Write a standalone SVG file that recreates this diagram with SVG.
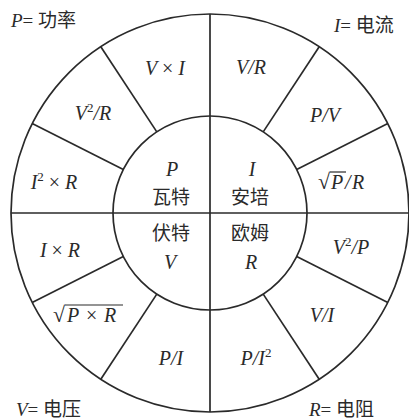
<svg xmlns="http://www.w3.org/2000/svg" width="409" height="420" viewBox="0 0 409 420">
<style>
.ln{stroke:#2a2a2a;stroke-width:1.7;fill:none}
.ov{stroke:#2a2a2a;stroke-width:1.2}
.f{font-family:"Liberation Serif","Times New Roman",serif;font-style:italic;font-size:20px;fill:#2a2a2a;text-anchor:middle}
.s{text-anchor:start}
.c{font-family:"Noto Sans CJK SC","Noto Sans CJK JP",sans-serif;font-size:19px;fill:#2a2a2a;text-anchor:middle}
.lab{font-family:"Liberation Serif","Noto Sans CJK SC",serif;font-size:19px;fill:#2a2a2a}
.n{font-style:normal}
.cj{font-family:"Noto Sans CJK SC","Noto Sans CJK JP",sans-serif;font-style:normal}
</style>
<rect width="409" height="420" fill="#ffffff"/>
<g id="connectors">
<circle class="ln" cx="210" cy="213" r="199"/>
<circle class="ln" cx="210" cy="213" r="97"/>
<line class="ln" x1="210" y1="14" x2="210" y2="412"/>
<line class="ln" x1="11" y1="213" x2="409" y2="213"/>
<line class="ln" x1="123.3" y1="169.4" x2="32.2" y2="123.6"/>
<line class="ln" x1="156.8" y1="131.9" x2="100.8" y2="46.7"/>
<line class="ln" x1="296.7" y1="169.4" x2="387.8" y2="123.6"/>
<line class="ln" x1="263.2" y1="131.9" x2="319.2" y2="46.7"/>
<line class="ln" x1="123.3" y1="256.6" x2="32.2" y2="302.4"/>
<line class="ln" x1="156.8" y1="294.1" x2="100.8" y2="379.3"/>
<line class="ln" x1="296.7" y1="256.6" x2="387.8" y2="302.4"/>
<line class="ln" x1="263.2" y1="294.1" x2="319.2" y2="379.3"/>
</g>
<g id="labels">
<text class="lab" x="11" y="27"><tspan font-style="italic">P</tspan>= <tspan class="cj">功率</tspan></text>
<text class="lab" x="334" y="32"><tspan font-style="italic">I</tspan>= <tspan class="cj">电流</tspan></text>
<text class="lab" x="16" y="416"><tspan font-style="italic">V</tspan>= <tspan class="cj">电压</tspan></text>
<text class="lab" x="309" y="416"><tspan font-style="italic">R</tspan>= <tspan class="cj">电阻</tspan></text>
</g>
<g id="inner">
<text class="f" x="172" y="176">P</text>
<text class="c" x="171" y="204">瓦特</text>
<text class="f" x="252" y="176">I</text>
<text class="c" x="250" y="204">安培</text>
<text class="c" x="171" y="240">伏特</text>
<text class="f" x="170" y="269">V</text>
<text class="c" x="250" y="240">欧姆</text>
<text class="f" x="251" y="269">R</text>
</g>
<g id="sectors">
<text class="f" x="165" y="75">V <tspan class="n">×</tspan> I</text>
<text class="f" x="93" y="120">V<tspan font-size="13" dy="-8" class="n">2</tspan><tspan dy="8">/R</tspan></text>
<text class="f" x="54" y="189">I<tspan font-size="13" dy="-8" class="n">2</tspan><tspan dy="8"> <tspan class="n">×</tspan> R</tspan></text>
<text class="f" x="251" y="74">V/R</text>
<text class="f" x="325" y="122">P/V</text>
<text class="f s" x="318" y="189"><tspan class="n" font-size="22">√</tspan><tspan x="331">P</tspan><tspan x="345">/</tspan><tspan x="352">R</tspan></text>
<line class="ov" x1="330" y1="172" x2="346" y2="172"/>
<text class="f" x="60" y="257">I <tspan class="n">×</tspan> R</text>
<text class="f s" x="53" y="322"><tspan class="n" font-size="22">√</tspan><tspan x="67">P</tspan><tspan class="n" x="86">×</tspan><tspan x="104">R</tspan></text>
<line class="ov" x1="65" y1="305" x2="123" y2="305"/>
<text class="f" x="171" y="365">P/I</text>
<text class="f" x="351" y="254">V<tspan font-size="13" dy="-8" class="n">2</tspan><tspan dy="8">/P</tspan></text>
<text class="f" x="322" y="322">V/I</text>
<text class="f" x="256" y="365">P/I<tspan font-size="13" dy="-8" class="n">2</tspan></text>
</g>
</svg>
